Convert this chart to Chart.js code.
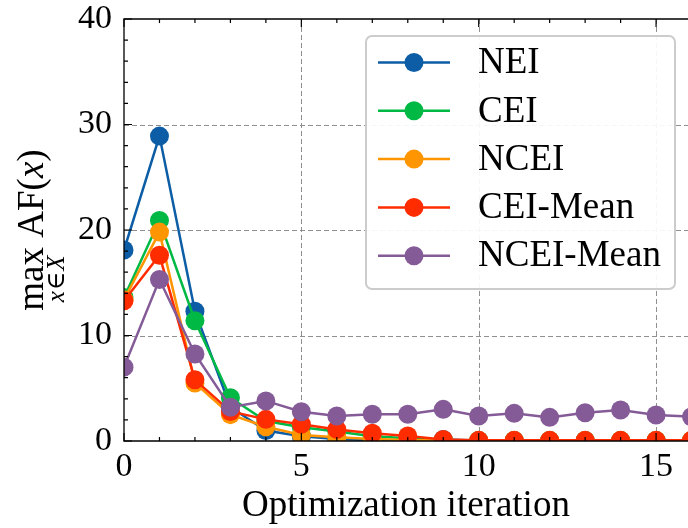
<!DOCTYPE html>
<html>
<head>
<meta charset="utf-8">
<script src="https://cdn.jsdelivr.net/npm/chart.js@4/dist/chart.umd.min.js"></script>
<style>
  html, body { margin: 0; padding: 0; background: #fff; }
  #wrap { width: 688px; height: 528px; }
</style>
</head>
<body>
<div id="wrap"><canvas id="chart" width="688" height="528"></canvas></div>
<script>
// Optimization iterations on the x axis
const iterations = [0, 1, 2, 3, 4, 5, 6, 7, 8, 9, 10, 11, 12, 13, 14, 15, 16];

// Maximum acquisition-function value per iteration, one array per method
const neiValues      = [18.1, 28.9, 12.3, 3.2, 1.0, 0.45, 0.2, 0.08, 0.06, 0.15, 0.05, 0.05, 0.05, 0.05, 0.05, 0.05, 0.05];
const ceiValues      = [13.6, 20.9, 11.4, 4.1, 1.9, 1.3, 0.9, 0.45, 0.25, 0.08, 0.05, 0.05, 0.05, 0.05, 0.05, 0.05, 0.05];
const nceiValues     = [13.4, 19.8, 5.5, 2.5, 1.35, 0.57, 0.35, 0.2, 0.1, 0.05, 0.05, 0.05, 0.05, 0.05, 0.05, 0.05, 0.05];
const ceiMeanValues  = [13.3, 17.6, 5.8, 2.8, 2.05, 1.58, 1.1, 0.73, 0.47, 0.15, 0.06, 0.06, 0.06, 0.06, 0.06, 0.06, 0.06];
const nceiMeanValues = [7.0, 15.3, 8.25, 3.2, 3.8, 2.78, 2.37, 2.53, 2.53, 3.0, 2.37, 2.62, 2.24, 2.68, 2.94, 2.46, 2.3];

const seriesNames = ['NEI', 'CEI', 'NCEI', 'CEI-Mean', 'NCEI-Mean'];
const seriesColors = ['#0C5DA5', '#00B945', '#FF9500', '#FF2C00', '#845B97'];
const seriesValues = [neiValues, ceiValues, nceiValues, ceiMeanValues, nceiMeanValues];

// Axis ticks
const xMajorTicks = [0, 5, 10, 15];
const yMajorTicks = [0, 10, 20, 30, 40];
const xMinorStep = 1;
const yMinorStep = 2;

const SERIF = "'Liberation Serif', 'DejaVu Serif', serif";
const TICK_SIZE = 34;
const TEXT_SIZE = 37;

const datasets = seriesNames.map((name, i) => ({
  label: name,
  data: iterations.map((it, k) => ({ x: it, y: seriesValues[i][k] })),
  borderColor: seriesColors[i],
  backgroundColor: seriesColors[i],
  borderWidth: 2.5,
  pointRadius: 9.5,
  pointHoverRadius: 9.5,
  pointBorderWidth: 0,
  pointBackgroundColor: seriesColors[i],
  tension: 0,
  clip: 0,
  // later series are painted on top of earlier ones
  order: seriesNames.length - i
}));

// Dashed grid underneath the data
const gridPlugin = {
  id: 'dashedGrid',
  beforeDatasetsDraw(chart) {
    const { ctx, chartArea: a, scales: { x, y } } = chart;
    ctx.save();
    ctx.strokeStyle = '#8f8f8f';
    ctx.lineWidth = 1;
    ctx.setLineDash([5, 3]);
    xMajorTicks.forEach(v => {
      const px = Math.round(x.getPixelForValue(v)) + 0.5;
      if (px <= a.left + 1 || px >= a.right) return;
      ctx.beginPath(); ctx.moveTo(px, a.top); ctx.lineTo(px, a.bottom); ctx.stroke();
    });
    yMajorTicks.forEach(v => {
      const py = Math.round(y.getPixelForValue(v)) + 0.5;
      if (py <= a.top + 1 || py >= a.bottom - 1) return;
      ctx.beginPath(); ctx.moveTo(a.left, py); ctx.lineTo(a.right, py); ctx.stroke();
    });
    ctx.restore();
  }
};

// Axis frame with inward major and minor ticks
const framePlugin = {
  id: 'axesFrame',
  afterDatasetsDraw(chart) {
    const { ctx, chartArea: a, scales: { x, y } } = chart;
    ctx.save();
    ctx.strokeStyle = '#000';
    ctx.lineWidth = 1.3;
    ctx.setLineDash([]);
    ctx.beginPath();
    ctx.moveTo(a.right + 2, a.top); ctx.lineTo(a.left, a.top);
    ctx.lineTo(a.left, a.bottom); ctx.lineTo(a.right + 2, a.bottom);
    ctx.stroke();

    const majorLen = 8, minorLen = 4;
    ctx.lineWidth = 1.2;
    ctx.beginPath();
    for (let v = x.min; v <= x.max + 1e-9; v += xMinorStep) {
      const px = x.getPixelForValue(v);
      const len = xMajorTicks.includes(v) ? majorLen : minorLen;
      ctx.moveTo(px, a.bottom); ctx.lineTo(px, a.bottom - len);
      ctx.moveTo(px, a.top); ctx.lineTo(px, a.top + len);
    }
    for (let v = y.min; v <= y.max + 1e-9; v += yMinorStep) {
      const py = y.getPixelForValue(v);
      const len = yMajorTicks.includes(v) ? majorLen : minorLen;
      ctx.moveTo(a.left, py); ctx.lineTo(a.left + len, py);
    }
    ctx.stroke();
    ctx.restore();
  }
};

// y-axis label: max over x in X of AF(x)
const yLabelPlugin = {
  id: 'yMathLabel',
  afterDraw(chart) {
    const { ctx, chartArea: a } = chart;
    const big = TEXT_SIZE, small = 25;
    const roman = `${big}px ${SERIF}`, ital = `italic ${big}px ${SERIF}`;
    const sRoman = `${small}px ${SERIF}`, sItal = `italic ${small}px ${SERIF}`;
    const mainParts = [['max', roman], [' ', roman], ['AF(', roman], ['x', ital], [')', roman]];
    const subParts = [['x', sItal], ['\u2208', sRoman], ['X', sItal]];
    ctx.save();
    const widths = mainParts.map(([t, f]) => { ctx.font = f; return ctx.measureText(t).width; });
    const subWidths = subParts.map(([t, f]) => { ctx.font = f; return ctx.measureText(t).width; });
    const total = widths.reduce((s, w) => s + w, 0);
    const subTotal = subWidths.reduce((s, w) => s + w, 0) + 2;
    const centerY = (a.top + a.bottom) / 2;
    ctx.translate(43, centerY + total / 2);
    ctx.rotate(-Math.PI / 2);
    ctx.fillStyle = '#000';
    ctx.textBaseline = 'alphabetic';
    ctx.textAlign = 'left';
    let pos = 0;
    mainParts.forEach(([t, f], i) => { ctx.font = f; ctx.fillText(t, pos, 0); pos += widths[i]; });
    let sp = widths[0] / 2 - subTotal / 2;
    subParts.forEach(([t, f], i) => { ctx.font = f; ctx.fillText(t, sp, 21); sp += subWidths[i] + 1; });
    ctx.restore();
  }
};

// Framed legend in the upper right of the plot
const legendPlugin = {
  id: 'boxLegend',
  afterDraw(chart) {
    const { ctx } = chart;
    const box = { x: 366, y: 36, w: 309, h: 253 };
    const rowY0 = 62.5, rowGap = 48.3;
    ctx.save();
    ctx.beginPath();
    ctx.roundRect(box.x, box.y, box.w, box.h, 6);
    ctx.fillStyle = 'rgba(255,255,255,0.92)';
    ctx.fill();
    ctx.strokeStyle = '#cccccc';
    ctx.lineWidth = 2;
    ctx.stroke();
    chart.data.datasets.forEach((ds, i) => {
      const cy = rowY0 + i * rowGap;
      ctx.strokeStyle = ds.borderColor;
      ctx.lineWidth = 2.5;
      ctx.beginPath(); ctx.moveTo(378, cy); ctx.lineTo(450, cy); ctx.stroke();
      ctx.fillStyle = ds.borderColor;
      ctx.beginPath(); ctx.arc(414, cy, 9.5, 0, Math.PI * 2); ctx.fill();
      ctx.fillStyle = '#000';
      ctx.font = `${TEXT_SIZE}px ${SERIF}`;
      ctx.textBaseline = 'middle';
      ctx.textAlign = 'left';
      ctx.fillText(ds.label, 478, cy + 1);
    });
    ctx.restore();
  }
};

function noEdgePadding(s) {
  s.paddingLeft = 0; s.paddingRight = 0; s.paddingTop = 0; s.paddingBottom = 0;
}

new Chart(document.getElementById('chart'), {
  type: 'line',
  data: { datasets },
  options: {
    responsive: false,
    animation: false,
    events: [],
    layout: { autoPadding: false, padding: { top: 19, right: 0, bottom: 0, left: 0 } },
    plugins: { legend: { display: false }, tooltip: { enabled: false } },
    scales: {
      x: {
        type: 'linear',
        min: 0,
        max: 15.9,
        position: 'bottom',
        afterBuildTicks(s) { s.ticks = xMajorTicks.map(v => ({ value: v })); },
        afterFit(s) { s.height = 87; noEdgePadding(s); },
        grid: { display: false, drawTicks: false },
        border: { display: false },
        ticks: {
          color: '#000',
          font: { family: SERIF, size: TICK_SIZE, lineHeight: 1 },
          padding: 9,
          maxRotation: 0,
          autoSkip: false
        },
        title: {
          display: true,
          text: 'Optimization iteration',
          color: '#000',
          font: { family: SERIF, size: TEXT_SIZE, lineHeight: 1.2 },
          padding: { top: 0, bottom: 0 }
        }
      },
      y: {
        type: 'linear',
        min: 0,
        max: 40,
        afterBuildTicks(s) { s.ticks = yMajorTicks.map(v => ({ value: v })); },
        afterFit(s) { s.width = 124; noEdgePadding(s); },
        grid: { display: false, drawTicks: false },
        border: { display: false },
        ticks: {
          color: '#000',
          font: { family: SERIF, size: TICK_SIZE, lineHeight: 1 },
          padding: 12
        }
      }
    }
  },
  plugins: [gridPlugin, framePlugin, yLabelPlugin, legendPlugin]
});
</script>
</body>
</html>
